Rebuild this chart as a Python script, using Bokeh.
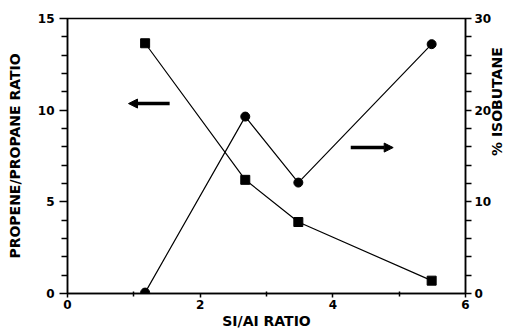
import math
from bokeh.plotting import figure
from bokeh.models import Range1d, LinearAxis, FixedTicker, Arrow, NormalHead
from bokeh.embed import file_html
from bokeh.resources import INLINE

# data
si_al = [1.17, 2.68, 3.48, 5.49]
propene_propane = [13.65, 6.2, 3.9, 0.7]
isobutane_pct = [0.1, 19.3, 12.1, 27.2]

x_ticks = [0, 2, 4, 6]
x_minor = [1, 3, 5]
left_ticks = [0, 5, 10, 15]
left_minor = [v for v in range(0, 16) if v % 5]
right_ticks = [0, 10, 20, 30]
right_minor = [v for v in range(0, 31, 2) if v % 10]

FONT = "DejaVu Sans"

p = figure(width=516, height=331, output_backend="svg", toolbar_location=None,
           x_range=Range1d(0, 6), y_range=Range1d(0, 15),
           min_border_left=67, min_border_right=51, min_border_top=18, min_border_bottom=38)
p.extra_y_ranges = {"iso": Range1d(0, 30)}
p.xgrid.visible = False
p.ygrid.visible = False
p.outline_line_color = "black"
p.outline_line_width = 1.5
p.background_fill_color = "white"
p.border_fill_color = "white"

def style(ax, label):
    ax.axis_label = label
    ax.axis_label_text_font = FONT
    ax.axis_label_text_font_style = "bold"
    ax.axis_label_text_font_size = "14px"
    ax.axis_label_text_color = "black"
    ax.major_label_text_font = FONT
    ax.major_label_text_font_style = "bold"
    ax.major_label_text_font_size = "12px"
    ax.major_label_text_color = "black"
    ax.axis_line_color = "black"
    ax.axis_line_width = 1.5
    ax.major_tick_line_color = "black"
    ax.minor_tick_line_color = "black"
    ax.major_tick_line_width = 1.5
    ax.minor_tick_line_width = 1.5

# x axis
xa = p.xaxis[0]
style(xa, "SI/AI RATIO")
xa.ticker = FixedTicker(ticks=x_ticks, minor_ticks=x_minor)
xa.major_tick_in = 0
xa.major_tick_out = 4
xa.minor_tick_in = 2
xa.minor_tick_out = 3
xa.major_label_standoff = 2
xa.axis_label_standoff = 1

# left axis
ya = p.yaxis[0]
style(ya, "PROPENE/PROPANE RATIO")
ya.ticker = FixedTicker(ticks=left_ticks, minor_ticks=left_minor)
ya.major_tick_in = 0
ya.major_tick_out = 8
ya.minor_tick_in = 0
ya.minor_tick_out = 6
ya.major_label_standoff = 5
ya.axis_label_standoff = 12

# right axis
ra = LinearAxis(y_range_name="iso")
style(ra, "% ISOBUTANE")
ra.ticker = FixedTicker(ticks=right_ticks, minor_ticks=right_minor)
ra.major_tick_in = 0
ra.major_tick_out = 6
ra.minor_tick_in = 0
ra.minor_tick_out = 6
ra.major_label_standoff = 3
ra.axis_label_standoff = 3
ra.axis_label_orientation = math.pi / 2
p.add_layout(ra, "right")

# series
p.line(si_al, propene_propane, line_color="black", line_width=1.2)
p.scatter(si_al, propene_propane, marker="square", size=9, fill_color="black", line_color="black")
p.line(si_al, isobutane_pct, line_color="black", line_width=1.2, y_range_name="iso")
p.scatter(si_al, isobutane_pct, marker="circle", size=9, fill_color="black", line_color="black",
          y_range_name="iso")

# direction arrows
p.add_layout(Arrow(end=NormalHead(size=9, fill_color="black", line_color="black"),
                   x_start=1.54, y_start=10.36, x_end=0.92, y_end=10.36,
                   line_width=3.5, line_color="black"))
p.add_layout(Arrow(end=NormalHead(size=9, fill_color="black", line_color="black"),
                   x_start=4.27, y_start=7.96, x_end=4.91, y_end=7.96,
                   line_width=3.5, line_color="black"))

open("out.html", "w").write(file_html(p, INLINE))
